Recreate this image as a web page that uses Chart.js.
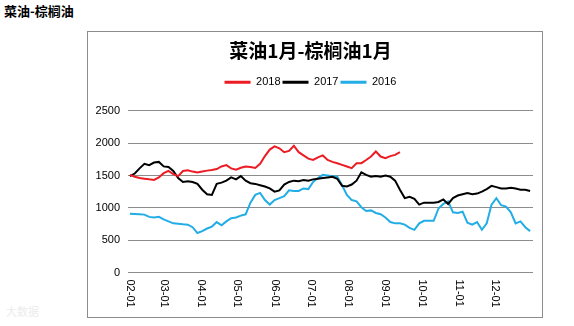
<!DOCTYPE html>
<html>
<head>
<meta charset="utf-8">
<script src="https://cdn.jsdelivr.net/npm/chart.js"></script>
<style>
  body { margin: 0; background: #fff; width: 574px; height: 326px; position: relative; overflow: hidden; }
  #pageTitle { position: absolute; left: 4px; top: 1px; font: bold 13px "Noto Sans CJK SC"; color: #000; }
  #mark { position: absolute; left: 6px; top: 303px; font: 11px "Noto Sans CJK SC"; color: #ececec; }
  #box { position: absolute; left: 87px; top: 31px; width: 456px; height: 287px; border: 1px solid #8c8c8c; box-sizing: border-box; }
  #box canvas { display: block; }
</style>
</head>
<body>
<div id="pageTitle">菜油-棕榈油</div>
<div id="mark">大数据</div>
<div id="box"><canvas id="canvasLine" width="454" height="285"></canvas></div>

<script>
// 数据 (天数从 02-01 起算, 每4天取一个点)
// =================================
const days = Array.from({ length: 84 }, (_, i) => i * 4);

const monthTicks = [0, 28, 59, 89, 120, 150, 181, 212, 242, 273, 303];
const monthLabels = ['02-01', '03-01', '04-01', '05-01', '06-01', '07-01', '08-01', '09-01', '10-01', '11-01', '12-01'];

const y2018 = [1509, 1480, 1460, 1450, 1440, 1432, 1470, 1535, 1570, 1520,
  1490, 1570, 1580, 1560, 1545, 1560, 1575, 1585, 1600, 1640,
  1660, 1610, 1590, 1620, 1640, 1630, 1615, 1680, 1800, 1900,
  1950, 1920, 1860, 1880, 1960, 1860, 1810, 1760, 1740, 1780,
  1810, 1740, 1710, 1690, 1664, 1638, 1613, 1690, 1690, 1740,
  1793, 1870, 1793, 1767, 1800, 1819, 1860];

const y2017 = [1490, 1530, 1610, 1680, 1660, 1700, 1710, 1640, 1630, 1570,
  1460, 1400, 1410, 1400, 1370, 1280, 1210, 1200, 1370, 1390,
  1420, 1470, 1440, 1490, 1420, 1380, 1370, 1350, 1330, 1300,
  1250, 1270, 1360, 1400, 1420, 1410, 1430, 1420, 1440, 1450,
  1460, 1470, 1480, 1450, 1340, 1330, 1360, 1420, 1550, 1510,
  1480, 1490, 1480, 1500, 1480, 1420, 1280, 1150, 1170, 1140,
  1050, 1080, 1080, 1080, 1090, 1130, 1060, 1150, 1190, 1210,
  1230, 1210, 1220, 1250, 1290, 1340, 1320, 1300, 1300, 1310,
  1300, 1280, 1280, 1260];

const y2016 = [910, 905, 900, 895, 860, 850, 860, 820, 790, 760,
  755, 745, 740, 700, 610, 640, 680, 710, 780, 730,
  790, 840, 850, 880, 900, 1080, 1200, 1230, 1120, 1050,
  1120, 1150, 1180, 1270, 1260, 1260, 1300, 1290, 1400, 1460,
  1510, 1500, 1490, 1480, 1350, 1200, 1120, 1100, 1010, 950,
  960, 920, 900, 850, 780, 760, 760, 740, 690, 660,
  760, 800, 800, 800, 990, 1060, 1100, 930, 920, 940,
  770, 740, 780, 660, 760, 1050, 1150, 1040, 1020, 930,
  760, 790, 700, 640];

const seriesNames = ['2018', '2017', '2016'];
const seriesColors = ['#ec1c24', '#000000', '#22ade6'];

// 竖排x轴标签 (顺时针旋转90度)
// =================================
const verticalTicks = {
  id: 'verticalTicks',
  afterDraw(chart) {
    const ctx = chart.ctx;
    const xs = chart.scales.x;
    ctx.save();
    ctx.font = '11px "Liberation Sans"';
    ctx.fillStyle = '#000';
    ctx.textAlign = 'left';
    ctx.textBaseline = 'middle';
    monthTicks.forEach((d, i) => {
      const px = xs.getPixelForValue(d);
      ctx.save();
      ctx.translate(px, chart.chartArea.bottom + 7);
      ctx.rotate(Math.PI / 2);
      ctx.fillText(monthLabels[i], 0, 0);
      ctx.restore();
    });
    ctx.restore();
  }
};

const ctx = document.getElementById('canvasLine').getContext('2d');
const lineChart = new Chart(ctx, {
  type: 'line',
  data: {
    labels: days,
    datasets: [y2018, y2017, y2016].map((vals, i) => ({
      label: seriesNames[i],
      data: vals,
      borderColor: seriesColors[i],
      backgroundColor: seriesColors[i],
      borderWidth: 2,
      pointRadius: 0,
      tension: 0,
      fill: false
    }))
  },
  options: {
    responsive: false,
    animation: false,
    devicePixelRatio: 1,
    layout: { padding: { left: 0, right: 9, top: 0, bottom: 0 } },
    plugins: {
      title: {
        display: true,
        text: '菜油1月-棕榈油1月',
        color: '#000',
        font: { family: '"Noto Sans CJK SC"', size: 19, weight: 'bold', lineHeight: 1.2 },
        padding: { top: 7, bottom: 13 }
      },
      subtitle: {
        display: true,
        text: ' ',
        weight: 500,
        font: { size: 1, lineHeight: 1 },
        padding: { top: 0, bottom: 12 }
      },
      legend: {
        display: true,
        position: 'top',
        labels: {
          boxWidth: 26,
          boxHeight: 3,
          padding: 2,
          color: '#000',
          font: { family: '"Liberation Sans"', size: 11 },
          generateLabels(chart) {
            return Chart.defaults.plugins.legend.labels.generateLabels(chart)
              .map(l => Object.assign(l, { lineWidth: 0 }));
          }
        }
      },
      tooltip: { enabled: false }
    },
    scales: {
      x: {
        type: 'linear',
        min: -1.6,
        max: 334.4,
        afterBuildTicks(scale) {
          scale.ticks = monthTicks.map(v => ({ value: v }));
        },
        afterFit(scale) { scale.height = 44.5; },
        ticks: { display: false },
        grid: { display: false },
        border: { display: false }
      },
      y: {
        min: 0,
        max: 2500,
        afterFit(scale) { scale.width = 40; },
        ticks: {
          stepSize: 500,
          padding: 8,
          color: '#000',
          font: { family: '"Liberation Sans"', size: 11 },
          callback: v => String(v)
        },
        grid: { color: '#8c8c8c', lineWidth: 1, drawTicks: false },
        border: { display: false }
      }
    }
  },
  plugins: [verticalTicks]
});
</script>
</body>
</html>
